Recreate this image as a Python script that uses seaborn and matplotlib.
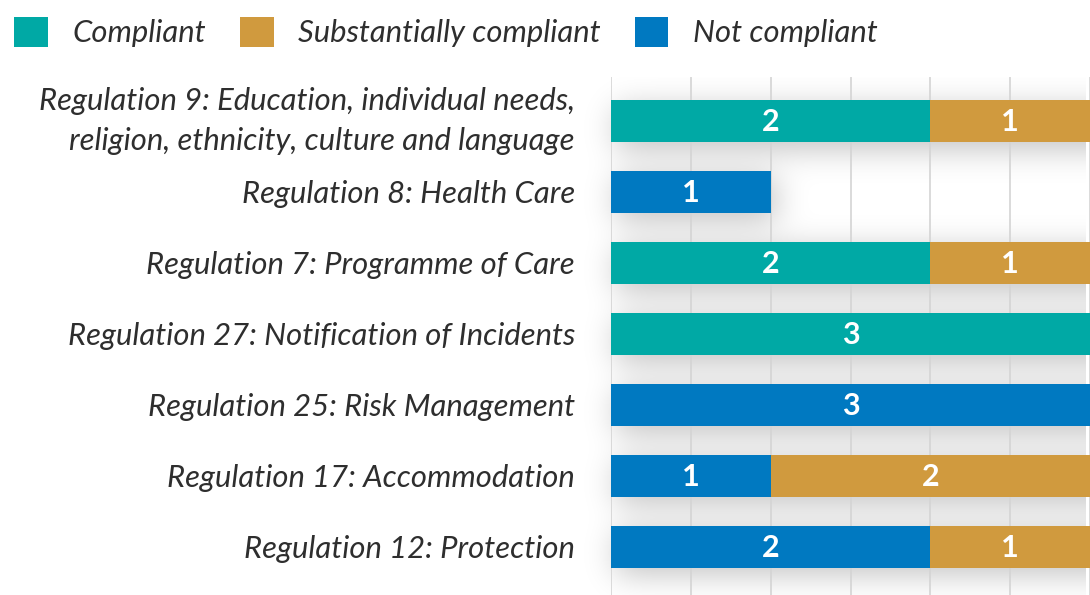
import matplotlib
matplotlib.use("Agg")
import matplotlib.pyplot as plt
import seaborn as sns
import pandas as pd
import numpy as np
from matplotlib.patches import Patch

categories = [
    "Regulation 9: Education, individual needs,\nreligion, ethnicity, culture and language",
    "Regulation 8: Health Care",
    "Regulation 7: Programme of Care",
    "Regulation 27: Notification of Incidents",
    "Regulation 25: Risk Management",
    "Regulation 17: Accommodation",
    "Regulation 12: Protection",
]
compliant = [2, 0, 2, 3, 0, 0, 0]
not_compliant = [0, 1, 0, 0, 3, 1, 2]
substantially = [1, 0, 1, 0, 0, 2, 1]
series_names = ["Compliant", "Substantially compliant", "Not compliant"]
colors = {"Compliant": "#00A9A5", "Substantially compliant": "#D09A3E", "Not compliant": "#0079C1"}

sns.set_theme(style="white")
plt.rcParams['font.family'] = ['Lato', 'DejaVu Sans']

c = np.array(compliant, dtype=float)
n = np.array(not_compliant, dtype=float)
s = np.array(substantially, dtype=float)
cum_c = c
cum_n = c + n
cum_s = c + n + s

W, Hfig = 1090, 595
ax_left, ax_top = 611, 77
fig = plt.figure(figsize=(W/100, Hfig/100), dpi=100)
ax = fig.add_axes([ax_left/W, 0, (W-ax_left)/W, (Hfig-ax_top)/Hfig])

XMAX = 2.97
YTOP, YBOT = -0.62, 6.68
H = 0.59
ax.set_xlim(0, XMAX)
ax.set_ylim(YBOT, YTOP)

# soft drop shadow computed from the bar totals
px_w = W - ax_left
px_h = Hfig - ax_top
xpad = 70
gx = np.linspace(-xpad / px_w * XMAX, XMAX, px_w + xpad)
gy = np.linspace(YTOP, YBOT, px_h)
X, Y = np.meshgrid(gx, gy)
mask = np.zeros_like(X)
dx = 5 / px_w * XMAX
dy = 7 / px_h * (YBOT - YTOP)
for i, tot in enumerate(cum_s):
    mask[(X >= dx) & (X <= tot + dx) & (Y >= i - H/2 + dy) & (Y <= i + H/2 + dy)] = 1.0

def blur(a, sigma, axis):
    r = int(3 * sigma)
    k = np.exp(-0.5 * (np.arange(-r, r + 1) / sigma) ** 2)
    k /= k.sum()
    return np.apply_along_axis(lambda v: np.convolve(np.pad(v, r, mode="edge"), k, mode="valid"), axis, a)

sh = blur(blur(mask, 16, 1), 16, 0)
rgba = np.zeros(sh.shape + (4,))
rgba[..., 3] = np.clip(sh * 0.25, 0, 1)
ax.imshow(rgba, extent=(gx[0], XMAX, YBOT, YTOP), aspect="auto", zorder=0.5,
          interpolation="bilinear", clip_on=False)
ax.set_xlim(0, XMAX)
ax.set_ylim(YBOT, YTOP)

df = pd.DataFrame({"cat": categories, "c": cum_c, "n": cum_n, "s": cum_s})
for col, name in [("s", "Substantially compliant"), ("n", "Not compliant"), ("c", "Compliant")]:
    sns.barplot(data=df, y="cat", x=col, color=colors[name], orient="h",
                width=H, ax=ax, saturation=1, zorder=2, linewidth=0, edgecolor="none")

# value labels
for i in range(len(categories)):
    segs = [(0, c[i]), (c[i], n[i]), (c[i] + n[i], s[i])]
    for start, w in segs:
        if w > 0:
            ax.text(start + w/2, i + 0.02, f"{int(w)}", ha="center", va="center", color="white",
                    fontsize=22, fontweight="bold", zorder=3)

ax.set_xlim(0, XMAX)
ax.set_ylim(YBOT, YTOP)
ax.set_xticks(np.arange(0, 3.01, 0.5))
ax.xaxis.grid(True, color="#d4d4d4", linewidth=1.2, zorder=1)
ax.tick_params(axis="x", bottom=False, labelbottom=False)
ax.tick_params(axis="y", left=False, pad=20)
for lab in ax.get_yticklabels():
    lab.set_fontsize(22.3)
    lab.set_fontstyle("italic")
    lab.set_fontweight("normal")
    lab.set_color("#2e2e2e")
    lab.set_ha("right")
    lab.set_multialignment("right")
    if "\n" in lab.get_text():
        lab.set_va("center")
        lab.set_linespacing(1.55)
ax.set_xlabel("")
ax.set_ylabel("")
for sp in ax.spines.values():
    sp.set_visible(False)

handles = [Patch(facecolor=colors[k], edgecolor="none") for k in series_names]
fig.legend(handles, series_names, loc="upper left", bbox_to_anchor=(8/W, 1 - 11/Hfig), ncol=3,
           frameon=False, handlelength=1.08, handleheight=1.08, handletextpad=0.8,
           columnspacing=1.1, borderpad=0.2, borderaxespad=0,
           prop={"size": 22.3, "style": "italic", "weight": "normal"},
           labelcolor="#2e2e2e")

fig.savefig("out.png", dpi=100)
